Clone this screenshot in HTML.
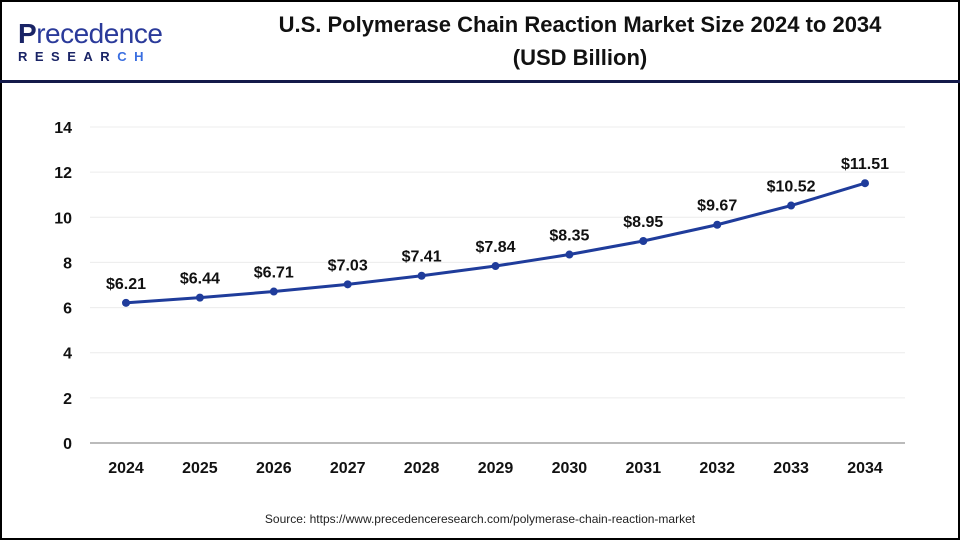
<!DOCTYPE html>
<html><head><meta charset="utf-8"><style>
body{margin:0;width:960px;height:540px;background:#fff;font-family:"Liberation Sans",Arial,sans-serif;overflow:hidden}
#frame{position:absolute;left:0;top:0;width:956px;height:536px;border:2px solid #000}
#hdr{position:absolute;left:0;top:80px;width:960px;height:3px;background:#141a4a}
#title{position:absolute;left:220px;width:720px;top:8px;text-align:center;font-weight:bold;font-size:22px;line-height:33px;color:#111}
#logo{position:absolute;left:18px;top:20px}
#src{position:absolute;top:512px;width:960px;text-align:center;font-size:12px;color:#222}
</style></head><body>
<div id="frame"></div>
<div id="logo">
<div style="font-size:28px;color:#1a2466;font-weight:bold;line-height:28px;letter-spacing:-0.5px">P<span style="font-weight:normal;color:#2a3a9a">recedence</span></div>
<div style="font-size:13px;color:#1a2466;font-weight:bold;letter-spacing:7.5px;margin-top:1px">RESEAR<span style="color:#3a6ee0">CH</span></div>
</div>
<div id="title">U.S. Polymerase Chain Reaction Market Size 2024 to 2034<br>(USD Billion)</div>
<div id="hdr"></div>
<svg id="chart" width="960" height="540" style="position:absolute;left:0;top:0"></svg>
<div id="src">Source: https://www.precedenceresearch.com/polymerase-chain-reaction-market</div>
<script>
const years=["2024","2025","2026","2027","2028","2029","2030","2031","2032","2033","2034"];
const values=[6.21,6.44,6.71,7.03,7.41,7.84,8.35,8.95,9.67,10.52,11.51];
const labels=["$6.21","$6.44","$6.71","$7.03","$7.41","$7.84","$8.35","$8.95","$9.67","$10.52","$11.51"];
const yTicks=[0,2,4,6,8,10,12,14];
const svg=document.getElementById('chart');const NS="http://www.w3.org/2000/svg";
function x(i){return 126+i*(865-126)/(years.length-1);}
function y(v){return 443-v*(443-127)/14;}
function mk(t,a,txt){const e=document.createElementNS(NS,t);for(const k in a)e.setAttribute(k,a[k]);if(txt!=null)e.textContent=txt;svg.appendChild(e);return e;}
yTicks.forEach(t=>{
 const g=mk('line',{x1:90,x2:905,y1:y(t),y2:y(t),stroke:t===0?'#bbb':'#ececec','stroke-width':t===0?2:1});
 
 
 const l=mk('text',{x:72,y:y(t)+6,'text-anchor':'end','font-size':16,'font-weight':'bold',fill:'#111'},String(t));
 
 
});
years.forEach((yr,i)=>{
 const l=mk('text',{x:x(i),y:473,'text-anchor':'middle','font-size':16,'font-weight':'bold',fill:'#111'},yr);
 
 
});
const p=mk('polyline',{points:values.map((v,i)=>x(i)+','+y(v)).join(' '),fill:'none',stroke:'#1f3c9b','stroke-width':3});


values.forEach((v,i)=>{
 const c=mk('circle',{cx:x(i),cy:y(v),r:4,fill:'#1f3c9b'});
 
 
 const t=mk('text',{x:x(i),y:y(v)-14,'text-anchor':'middle','font-size':16,'font-weight':'bold',fill:'#111'},labels[i]);
 
 
});
</script>
</body></html>
